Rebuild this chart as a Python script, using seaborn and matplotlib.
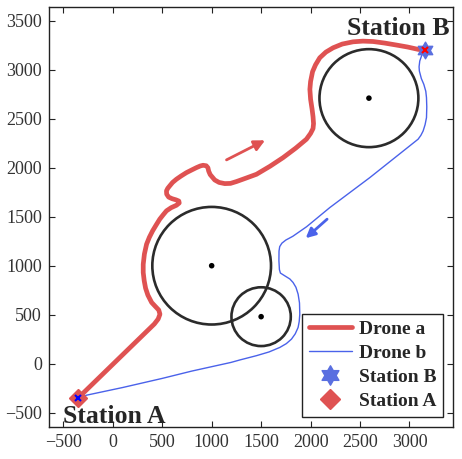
import numpy as np
import pandas as pd
import matplotlib
matplotlib.use('Agg')
import matplotlib.pyplot as plt
import seaborn as sns
from matplotlib.path import Path
from matplotlib.lines import Line2D
from matplotlib.patches import Circle

# ---------------- data ----------------
drone_a_x = [-350, 420, 459, 477, 465, 430, 393, 355, 332, 318, 308, 308, 320, 342, 370, 403, 440, 475,
             510, 543, 590, 644, 672, 668, 640, 600, 565, 545, 543, 556, 576, 605, 644, 690, 745, 800,
             846, 885, 913, 945, 962, 970, 985, 1031, 1075, 1132, 1190, 1251, 1350, 1453, 1590, 1722,
             1850, 1958, 2000, 2025, 2030, 2025, 2015, 2000, 1993, 2000, 2020, 2050, 2093, 2155, 2228,
             2320, 2430, 2530, 2632, 2750, 2868, 2980, 3087, 3160]
drone_a_y = [-350, 405, 456, 505, 548, 585, 625, 700, 770, 846, 930, 1015, 1120, 1220, 1290, 1356, 1418, 1475,
             1520, 1560, 1592, 1617, 1640, 1660, 1672, 1684, 1700, 1730, 1764, 1790, 1815, 1850, 1883, 1915, 1950, 1978,
             2001, 2018, 2025, 2020, 2000, 1965, 1930, 1875, 1850, 1838, 1840, 1859, 1895, 1933, 2015, 2103,
             2200, 2291, 2350, 2400, 2450, 2520, 2600, 2700, 2800, 2880, 2980, 3050, 3122, 3180, 3224,
             3262, 3285, 3292, 3288, 3272, 3252, 3232, 3208, 3200]

drone_b_x = [3160, 3125, 3104, 3097, 3100, 3120, 3145, 3165, 3172, 3175, 3172, 3158, 3138, 3115, 3087,
             2600, 2194, 1960, 1820, 1750, 1710, 1688, 1681, 1680, 1685, 1695, 1739, 1790, 1823, 1852,
             1874, 1888, 1891, 1885, 1874, 1845, 1807, 1755, 1689, 1580, 1453, 1284, 1195, 800, 500,
             100, -264, -350]
drone_b_y = [3200, 3150, 3089, 3030, 2987, 2910, 2851, 2780, 2715, 2620, 2511, 2440, 2375, 2330, 2291,
             1900, 1593, 1398, 1300, 1262, 1230, 1195, 1150, 1050, 960, 925, 897, 865, 829, 780,
             710, 620, 506, 430, 370, 305, 251, 205, 166, 120, 82, 38, 13, -75, -150,
             -243, -321, -350]

obstacle_x = [1000, 1500, 2590]
obstacle_y = [1000, 480, 2710]
obstacle_r = [600, 300, 500]

station_names = ['Station B', 'Station A']
station_x = [3160, -350]
station_y = [3200, -350]

arrow_a = [(1150, 2080), (1540, 2280)]
arrow_b = [(2167, 1475), (1951, 1281)]

xticks = [-500, 0, 500, 1000, 1500, 2000, 2500, 3000]
yticks = [-500, 0, 500, 1000, 1500, 2000, 2500, 3000, 3500]

RED = '#DF5252'
BLUE = '#4A62EA'
STAR_BLUE = '#5A6FE0'

# ---------------- style ----------------
sns.set_style('white')
plt.rcParams['font.family'] = ['Liberation Serif', 'DejaVu Serif']

fig = plt.figure(figsize=(4.62, 4.59), dpi=100)
ax = fig.add_axes([0.106, 0.0697, 0.8745, 0.915])

# hexagram marker
ang = np.deg2rad(90 + 30 * np.arange(12))
rad = np.where(np.arange(12) % 2 == 0, 1.0, 0.577)
verts = np.column_stack([rad * np.cos(ang), rad * np.sin(ang)])
verts = np.vstack([verts, verts[0]])
hexagram = Path(verts, [Path.MOVETO] + [Path.LINETO] * 11 + [Path.CLOSEPOLY])

# obstacles
for cx, cy, r in zip(obstacle_x, obstacle_y, obstacle_r):
    ax.add_patch(Circle((cx, cy), r, fill=False, ec='#2b2b2b', lw=1.9, zorder=2))
sns.scatterplot(x=obstacle_x, y=obstacle_y, color='black', s=16, edgecolor='none', ax=ax, zorder=3)

# paths
df_a = pd.DataFrame({'x': drone_a_x, 'y': drone_a_y})
df_b = pd.DataFrame({'x': drone_b_x, 'y': drone_b_y})
sns.lineplot(data=df_a, x='x', y='y', sort=False, estimator=None, color=RED, lw=3.4, ax=ax, zorder=4,
             solid_joinstyle='round', solid_capstyle='round')
sns.lineplot(data=df_b, x='x', y='y', sort=False, estimator=None, color=BLUE, lw=1.0, ax=ax, zorder=4)

# stations
ax.plot(station_x[0], station_y[0], marker=hexagram, ms=12, color=STAR_BLUE, mec=STAR_BLUE, ls='none', zorder=5)
ax.plot(station_x[0], station_y[0], marker='x', ms=5, color='red', mew=1.5, ls='none', zorder=6)
ax.plot(station_x[1], station_y[1], marker='D', ms=9, color=RED, mec=RED, ls='none', zorder=5)
ax.plot(station_x[1], station_y[1], marker='x', ms=5, color='blue', mew=1.5, ls='none', zorder=6)

# arrows
ax.annotate('', xy=arrow_a[1], xytext=arrow_a[0],
            arrowprops=dict(arrowstyle='-|>', color=RED, lw=2.0, mutation_scale=16, shrinkA=0, shrinkB=0), zorder=5)
ax.annotate('', xy=arrow_b[1], xytext=arrow_b[0],
            arrowprops=dict(arrowstyle='-|>', color=BLUE, lw=2.0, mutation_scale=14, shrinkA=0, shrinkB=0), zorder=5)

# station labels
ax.text(2370, 3354, station_names[0], fontsize=18.5, fontweight='bold', ha='left', va='baseline', clip_on=False, zorder=7)
ax.text(-505, -605, station_names[1], fontsize=18.5, fontweight='bold', ha='left', va='baseline', clip_on=False, zorder=7)

# axes
ax.set_xlim(-645, 3440)
ax.set_ylim(-646, 3640)
ax.set_xticks(xticks)
ax.set_yticks(yticks)
ax.set_xlabel('')
ax.set_ylabel('')
ax.tick_params(direction='in', bottom=True, left=True, top=True, right=True, length=4, width=0.8,
               labelsize=13, colors='#222222', labelcolor='#333333', pad=5)
for sp in ax.spines.values():
    sp.set_color('#222222')
    sp.set_linewidth(1.0)

# legend
handles = [Line2D([], [], color=RED, lw=3.4),
           Line2D([], [], color=BLUE, lw=1.0),
           Line2D([], [], marker=hexagram, ms=14, color=STAR_BLUE, ls='none'),
           Line2D([], [], marker='D', ms=10, color=RED, ls='none')]
leg = ax.legend(handles, ['Drone a', 'Drone b', 'Station B', 'Station A'], loc='lower right',
                bbox_to_anchor=(0.975, 0.024), frameon=True, fancybox=False, framealpha=1,
                prop={'family': 'Liberation Serif', 'weight': 'bold', 'size': 14},
                handlelength=2.2, handletextpad=0.35, labelspacing=0.33, borderpad=0.35, borderaxespad=0)
leg.get_frame().set_edgecolor('#222222')
leg.get_frame().set_linewidth(1.0)

fig.savefig('out.png', dpi=100)
